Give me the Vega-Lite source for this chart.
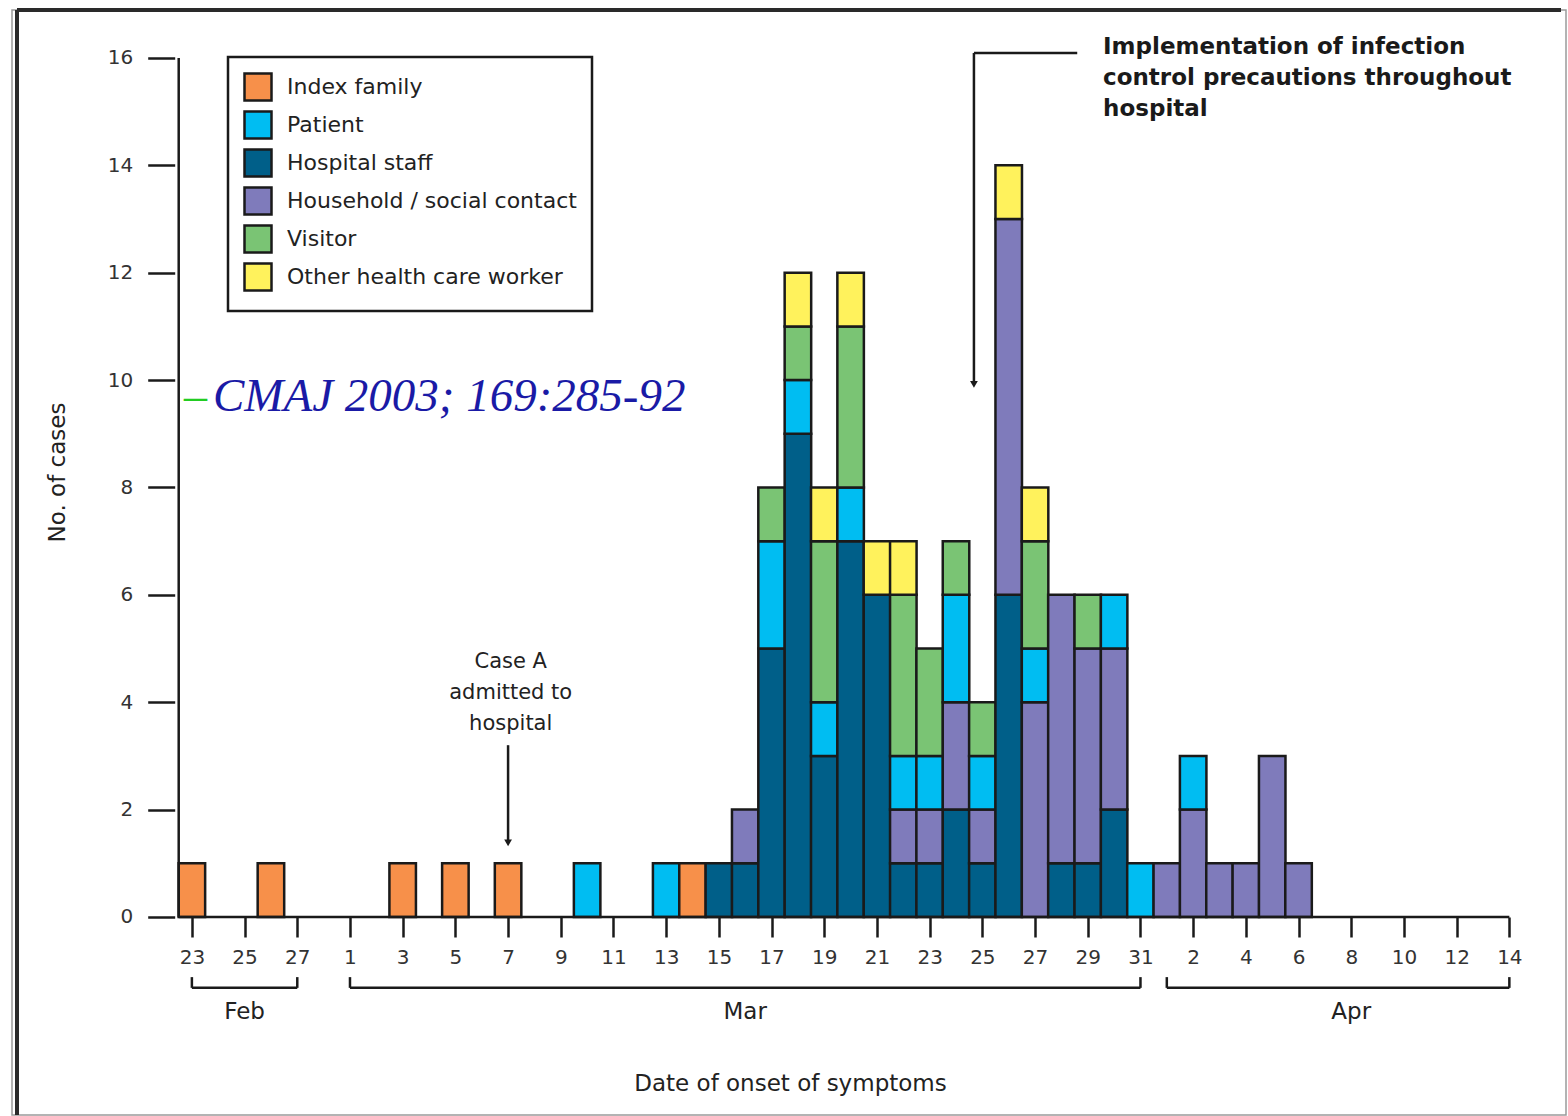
{
  "$schema": "https://vega.github.io/schema/vega-lite/v6.json",
  "width": 1554,
  "height": 1105,
  "autosize": {"type": "none"},
  "padding": {"left": 12, "top": 10, "right": 2, "bottom": 1},
  "background": "white",
  "config": {
    "font": "DejaVu Sans",
    "view": {"stroke": "#9a9a9a", "strokeWidth": 1.5},
    "legend": {"strokeWidth": 2.5}
  },
  "datasets": {
    "cases": [
      {"date": "2003-02-23", "day": 0, "group": "Index family", "cases": 1},
      {"date": "2003-02-26", "day": 3, "group": "Index family", "cases": 1},
      {"date": "2003-03-03", "day": 8, "group": "Index family", "cases": 1},
      {"date": "2003-03-05", "day": 10, "group": "Index family", "cases": 1},
      {"date": "2003-03-07", "day": 12, "group": "Index family", "cases": 1},
      {"date": "2003-03-10", "day": 15, "group": "Patient", "cases": 1},
      {"date": "2003-03-13", "day": 18, "group": "Patient", "cases": 1},
      {"date": "2003-03-14", "day": 19, "group": "Index family", "cases": 1},
      {"date": "2003-03-15", "day": 20, "group": "Hospital staff", "cases": 1},
      {"date": "2003-03-16", "day": 21, "group": "Hospital staff", "cases": 1},
      {"date": "2003-03-16", "day": 21, "group": "Household / social contact", "cases": 1},
      {"date": "2003-03-17", "day": 22, "group": "Hospital staff", "cases": 5},
      {"date": "2003-03-17", "day": 22, "group": "Patient", "cases": 2},
      {"date": "2003-03-17", "day": 22, "group": "Visitor", "cases": 1},
      {"date": "2003-03-18", "day": 23, "group": "Hospital staff", "cases": 9},
      {"date": "2003-03-18", "day": 23, "group": "Patient", "cases": 1},
      {"date": "2003-03-18", "day": 23, "group": "Visitor", "cases": 1},
      {"date": "2003-03-18", "day": 23, "group": "Other health care worker", "cases": 1},
      {"date": "2003-03-19", "day": 24, "group": "Hospital staff", "cases": 3},
      {"date": "2003-03-19", "day": 24, "group": "Patient", "cases": 1},
      {"date": "2003-03-19", "day": 24, "group": "Visitor", "cases": 3},
      {"date": "2003-03-19", "day": 24, "group": "Other health care worker", "cases": 1},
      {"date": "2003-03-20", "day": 25, "group": "Hospital staff", "cases": 7},
      {"date": "2003-03-20", "day": 25, "group": "Patient", "cases": 1},
      {"date": "2003-03-20", "day": 25, "group": "Visitor", "cases": 3},
      {"date": "2003-03-20", "day": 25, "group": "Other health care worker", "cases": 1},
      {"date": "2003-03-21", "day": 26, "group": "Hospital staff", "cases": 6},
      {"date": "2003-03-21", "day": 26, "group": "Other health care worker", "cases": 1},
      {"date": "2003-03-22", "day": 27, "group": "Hospital staff", "cases": 1},
      {"date": "2003-03-22", "day": 27, "group": "Household / social contact", "cases": 1},
      {"date": "2003-03-22", "day": 27, "group": "Patient", "cases": 1},
      {"date": "2003-03-22", "day": 27, "group": "Visitor", "cases": 3},
      {"date": "2003-03-22", "day": 27, "group": "Other health care worker", "cases": 1},
      {"date": "2003-03-23", "day": 28, "group": "Hospital staff", "cases": 1},
      {"date": "2003-03-23", "day": 28, "group": "Household / social contact", "cases": 1},
      {"date": "2003-03-23", "day": 28, "group": "Patient", "cases": 1},
      {"date": "2003-03-23", "day": 28, "group": "Visitor", "cases": 2},
      {"date": "2003-03-24", "day": 29, "group": "Hospital staff", "cases": 2},
      {"date": "2003-03-24", "day": 29, "group": "Household / social contact", "cases": 2},
      {"date": "2003-03-24", "day": 29, "group": "Patient", "cases": 2},
      {"date": "2003-03-24", "day": 29, "group": "Visitor", "cases": 1},
      {"date": "2003-03-25", "day": 30, "group": "Hospital staff", "cases": 1},
      {"date": "2003-03-25", "day": 30, "group": "Household / social contact", "cases": 1},
      {"date": "2003-03-25", "day": 30, "group": "Patient", "cases": 1},
      {"date": "2003-03-25", "day": 30, "group": "Visitor", "cases": 1},
      {"date": "2003-03-26", "day": 31, "group": "Hospital staff", "cases": 6},
      {"date": "2003-03-26", "day": 31, "group": "Household / social contact", "cases": 7},
      {"date": "2003-03-26", "day": 31, "group": "Other health care worker", "cases": 1},
      {"date": "2003-03-27", "day": 32, "group": "Household / social contact", "cases": 4},
      {"date": "2003-03-27", "day": 32, "group": "Patient", "cases": 1},
      {"date": "2003-03-27", "day": 32, "group": "Visitor", "cases": 2},
      {"date": "2003-03-27", "day": 32, "group": "Other health care worker", "cases": 1},
      {"date": "2003-03-28", "day": 33, "group": "Hospital staff", "cases": 1},
      {"date": "2003-03-28", "day": 33, "group": "Household / social contact", "cases": 5},
      {"date": "2003-03-29", "day": 34, "group": "Hospital staff", "cases": 1},
      {"date": "2003-03-29", "day": 34, "group": "Household / social contact", "cases": 4},
      {"date": "2003-03-29", "day": 34, "group": "Visitor", "cases": 1},
      {"date": "2003-03-30", "day": 35, "group": "Hospital staff", "cases": 2},
      {"date": "2003-03-30", "day": 35, "group": "Household / social contact", "cases": 3},
      {"date": "2003-03-30", "day": 35, "group": "Patient", "cases": 1},
      {"date": "2003-03-31", "day": 36, "group": "Patient", "cases": 1},
      {"date": "2003-04-01", "day": 37, "group": "Household / social contact", "cases": 1},
      {"date": "2003-04-02", "day": 38, "group": "Household / social contact", "cases": 2},
      {"date": "2003-04-02", "day": 38, "group": "Patient", "cases": 1},
      {"date": "2003-04-03", "day": 39, "group": "Household / social contact", "cases": 1},
      {"date": "2003-04-04", "day": 40, "group": "Household / social contact", "cases": 1},
      {"date": "2003-04-05", "day": 41, "group": "Household / social contact", "cases": 3},
      {"date": "2003-04-06", "day": 42, "group": "Household / social contact", "cases": 1}
    ],
    "lines": [
      {"x": -0.5, "x2": -0.5, "y": 0, "y2": 16},
      {"x": -0.5, "x2": 50, "y": 0, "y2": 0},
      {"x": 0, "x2": 4, "y": -1.32, "y2": -1.32},
      {"x": 0, "x2": 0, "y": -1.12, "y2": -1.32},
      {"x": 4, "x2": 4, "y": -1.12, "y2": -1.32},
      {"x": 6, "x2": 36, "y": -1.32, "y2": -1.32},
      {"x": 6, "x2": 6, "y": -1.12, "y2": -1.32},
      {"x": 36, "x2": 36, "y": -1.12, "y2": -1.32},
      {"x": 37, "x2": 50, "y": -1.32, "y2": -1.32},
      {"x": 37, "x2": 37, "y": -1.12, "y2": -1.32},
      {"x": 50, "x2": 50, "y": -1.12, "y2": -1.32},
      {"x": 12, "x2": 12, "y": 3.2, "y2": 1.4},
      {"x": 29.68, "x2": 33.6, "y": 16.09, "y2": 16.09},
      {"x": 29.68, "x2": 29.68, "y": 16.09, "y2": 9.95}
    ],
    "arrowheads": [
      {"x": 12, "y": 1.38},
      {"x": 29.68, "y": 9.92}
    ],
    "frame": [
      {"x": -6.637, "x2": -6.637, "y": -3.688, "y2": 16.893},
      {"x": -6.637, "x2": 51.96, "y": 16.893, "y2": 16.893}
    ],
    "months": [
      {"label": "Feb", "x": 2, "y": -1.77},
      {"label": "Mar", "x": 21, "y": -1.77},
      {"label": "Apr", "x": 44, "y": -1.77}
    ]
  },
  "layer": [
    {
      "data": {"name": "frame"},
      "mark": {"type": "rule", "stroke": "#2a2a2a", "strokeWidth": 4},
      "encoding": {
        "x": {"field": "x", "type": "quantitative"},
        "x2": {"field": "x2"},
        "y": {"field": "y", "type": "quantitative"},
        "y2": {"field": "y2"}
      }
    },
    {
      "data": {"name": "cases"},
      "transform": [
        {"calculate": "indexof(['Index family','Hospital staff','Household / social contact','Patient','Visitor','Other health care worker'], datum.group)", "as": "stackOrder"}
      ],
      "mark": {"type": "bar", "width": 26.52, "stroke": "#1a1a1a", "strokeWidth": 2.5},
      "encoding": {
        "x": {
          "field": "day", "type": "quantitative",
          "scale": {"domain": [-6.637, 51.96], "nice": false, "zero": false},
          "axis": {
            "values": [0, 2, 4, 6, 8, 10, 12, 14, 16, 18, 20, 22, 24, 26, 28, 30, 32, 34, 36, 38, 40, 42, 44, 46, 48, 50],
            "labelExpr": "'' + (datum.value < 6 ? datum.value + 23 : (datum.value < 37 ? datum.value - 5 : datum.value - 36))",
            "offset": -198,
            "domain": false,
            "grid": false,
            "tickSize": 20,
            "tickWidth": 2.5,
            "tickColor": "#1a1a1a",
            "labelFontSize": 20,
            "labelColor": "#333333",
            "labelPadding": 10,
            "labelOverlap": false,
            "labelFlush": false,
            "labelBound": false,
            "title": "Date of onset of symptoms",
            "titleFontSize": 23,
            "titleFontWeight": "normal",
            "titleColor": "#222222",
            "titleX": 778,
            "titleY": 166,
            "titleAlign": "center",
            "titleBaseline": "middle"
          }
        },
        "y": {
          "field": "cases", "type": "quantitative", "stack": "zero",
          "scale": {"domain": [-3.688, 16.893], "nice": false, "zero": false},
          "axis": {
            "values": [0, 2, 4, 6, 8, 10, 12, 14, 16],
            "offset": -162.7,
            "domain": false,
            "grid": false,
            "tickSize": 27,
            "tickWidth": 2.5,
            "tickColor": "#1a1a1a",
            "labelFontSize": 20,
            "labelColor": "#333333",
            "labelPadding": 15,
            "title": "No. of cases",
            "titleFontSize": 23,
            "titleFontWeight": "normal",
            "titleColor": "#222222",
            "titleAngle": 270,
            "titleX": -117.7,
            "titleY": 462,
            "titleAlign": "center",
            "titleBaseline": "middle"
          }
        },
        "color": {
          "field": "group", "type": "nominal",
          "sort": ["Index family", "Patient", "Hospital staff", "Household / social contact", "Visitor", "Other health care worker"],
          "scale": {
            "domain": ["Index family", "Patient", "Hospital staff", "Household / social contact", "Visitor", "Other health care worker"],
            "range": ["#F7904A", "#00BDF2", "#005F89", "#7F7BBB", "#7AC474", "#FFF25C"]
          },
          "legend": {
            "title": null,
            "orient": "none",
            "legendX": 216,
            "legendY": 47,
            "direction": "vertical",
            "symbolType": "square",
            "symbolSize": 729,
            "symbolStrokeColor": "#1a1a1a",
            "symbolStrokeWidth": 2.5,
            "symbolOpacity": 1,
            "labelFontSize": 22,
            "labelColor": "#222222",
            "labelOffset": 14,
            "labelLimit": 400,
            "rowPadding": 0,
            "padding": 15,
            "strokeColor": "#1a1a1a",
            "fillColor": "white"
          }
        },
        "order": {"field": "stackOrder", "type": "quantitative"}
      }
    },
    {
      "data": {"name": "lines"},
      "mark": {"type": "rule", "stroke": "#1a1a1a", "strokeWidth": 2.5},
      "encoding": {
        "x": {"field": "x", "type": "quantitative"},
        "x2": {"field": "x2"},
        "y": {"field": "y", "type": "quantitative"},
        "y2": {"field": "y2"}
      }
    },
    {
      "data": {"name": "arrowheads"},
      "mark": {"type": "point", "shape": "triangle-down", "filled": true, "color": "#1a1a1a", "size": 60, "opacity": 1},
      "encoding": {
        "x": {"field": "x", "type": "quantitative"},
        "y": {"field": "y", "type": "quantitative"}
      }
    },
    {
      "data": {"name": "months"},
      "mark": {"type": "text", "fontSize": 23, "color": "#222222", "align": "center", "baseline": "middle"},
      "encoding": {
        "x": {"field": "x", "type": "quantitative"},
        "y": {"field": "y", "type": "quantitative"},
        "text": {"field": "label", "type": "nominal"}
      }
    },
    {
      "data": {"values": [{"label": "Case A\nadmitted to\nhospital", "x": 12.1, "y": 4.64}]},
      "mark": {"type": "text", "fontSize": 21, "color": "#222222", "align": "center", "baseline": "alphabetic", "lineBreak": "\n", "lineHeight": 31},
      "encoding": {
        "x": {"field": "x", "type": "quantitative"},
        "y": {"field": "y", "type": "quantitative"},
        "text": {"field": "label", "type": "nominal"}
      }
    },
    {
      "data": {"values": [{"label": "Implementation of infection\ncontrol precautions throughout\nhospital", "x": 34.58, "y": 16.07}]},
      "mark": {"type": "text", "fontSize": 23, "fontWeight": "bold", "color": "#1a1a1a", "align": "left", "baseline": "alphabetic", "lineBreak": "\n", "lineHeight": 31},
      "encoding": {
        "x": {"field": "x", "type": "quantitative"},
        "y": {"field": "y", "type": "quantitative"},
        "text": {"field": "label", "type": "nominal"}
      }
    },
    {
      "data": {"values": [{"label": "–", "x": -0.3, "y": 9.42}]},
      "mark": {"type": "text", "font": "Liberation Serif", "fontStyle": "italic", "fontSize": 46, "color": "#22cc22", "align": "left", "baseline": "alphabetic"},
      "encoding": {
        "x": {"field": "x", "type": "quantitative"},
        "y": {"field": "y", "type": "quantitative"},
        "text": {"field": "label", "type": "nominal"}
      }
    },
    {
      "data": {"values": [{"label": "CMAJ 2003; 169:285-92", "x": 0.8, "y": 9.42}]},
      "mark": {"type": "text", "font": "Liberation Serif", "fontStyle": "italic", "fontSize": 47, "color": "#1a1aa6", "align": "left", "baseline": "alphabetic"},
      "encoding": {
        "x": {"field": "x", "type": "quantitative"},
        "y": {"field": "y", "type": "quantitative"},
        "text": {"field": "label", "type": "nominal"}
      }
    }
  ]
}
